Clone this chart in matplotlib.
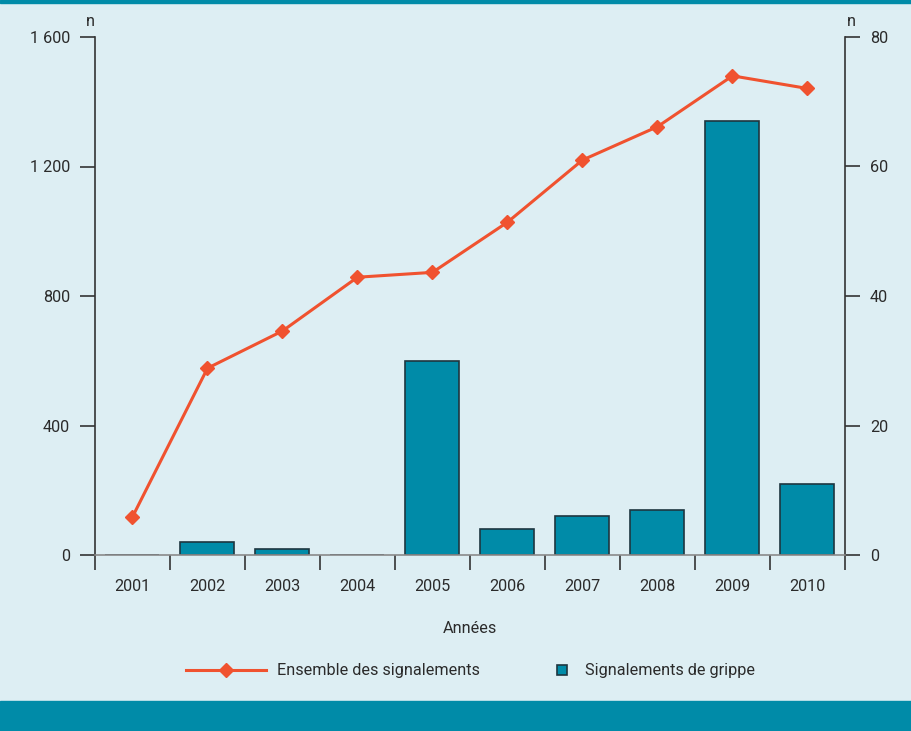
import matplotlib
matplotlib.use("Agg")
import matplotlib.pyplot as plt
from matplotlib.lines import Line2D
from matplotlib.patches import Patch, Rectangle
import numpy as np

plt.rcParams['font.family'] = ['Roboto', 'DejaVu Sans']

years = ["2001", "2002", "2003", "2004", "2005", "2006", "2007", "2008", "2009", "2010"]
ensemble = [118, 577, 692, 858, 873, 1028, 1220, 1323, 1480, 1441]
grippe = [0, 2, 1, 0, 30, 4, 6, 7, 67, 11]
left_ticks = [0, 400, 800, 1200, 1600]
left_labels = ["0", "400", "800", "1 200", "1 600"]
right_ticks = [0, 20, 40, 60, 80]

BG = "#ddeef3"
TEAL = "#008ba8"
EDGE = "#1e3640"
RED = "#f0522f"
TXT = "#2b2b2b"
AX = "#333333"
FS = 11.7

fig = plt.figure(figsize=(9.12, 7.31), dpi=100, facecolor=BG)
fig.patches.append(Rectangle((0, 1 - 3/731), 1, 3/731, transform=fig.transFigure, color=TEAL, zorder=0))
fig.patches.append(Rectangle((0, 0), 1, 30/731, transform=fig.transFigure, color=TEAL, zorder=0))

W, H = 912, 731
x0, x1, ytop, ybot = 95, 845, 37, 555
ax = fig.add_axes([x0 / W, 1 - ybot / H, (x1 - x0) / W, (ybot - ytop) / H])
ax.set_facecolor("none")
ax2 = ax.twinx()

n = len(years)
x = np.arange(n) + 0.5

ax2.bar(x, grippe, width=0.72, color=TEAL, edgecolor=EDGE, linewidth=1.2, zorder=2)
ax.plot(x, ensemble, color=RED, lw=2.2, marker="D", ms=7, mec=RED, mfc=RED, zorder=5)
ax.set_zorder(ax2.get_zorder() + 1)
ax.patch.set_visible(False)

ax.set_xlim(0, n)
ax.set_ylim(0, 1600)
ax2.set_ylim(0, 80)

for a in (ax, ax2):
    for s in a.spines.values():
        s.set_visible(False)

ax.spines['left'].set_visible(True)
ax.spines['left'].set_color(AX)
ax.spines['left'].set_linewidth(1.2)
ax2.spines['right'].set_visible(True)
ax2.spines['right'].set_color(AX)
ax2.spines['right'].set_linewidth(1.2)
ax.spines['bottom'].set_visible(True)
ax.spines['bottom'].set_color("#8a8a8a")
ax.spines['bottom'].set_linewidth(1.2)

ax.set_yticks(left_ticks)
ax.set_yticklabels(left_labels)
ax2.set_yticks(right_ticks)
ax2.set_yticklabels([str(t) for t in right_ticks])
ax.tick_params(axis='y', length=11, width=1.2, color=AX, labelsize=FS, labelcolor=TXT, pad=7)
ax2.tick_params(axis='y', length=11, width=1.2, color=AX, labelsize=FS, labelcolor=TXT, pad=7)

ax.set_xticks(np.arange(n + 1))
ax.set_xticklabels([])
ax.set_xticks(x, minor=True)
ax.set_xticklabels(years, minor=True)
ax.tick_params(axis='x', which='major', length=11, width=1.2, color=AX, direction='out')
ax.tick_params(axis='x', which='minor', length=0, labelsize=FS, labelcolor=TXT, pad=17)

ax.set_xlabel("Années", fontsize=FS, color=TXT, labelpad=20)

fig.text(90 / W, 1 - 22 / H, "n", ha="center", va="center", fontsize=FS, color=TXT)
fig.text(851 / W, 1 - 22 / H, "n", ha="center", va="center", fontsize=FS, color=TXT)

leg1 = fig.legend([Line2D([0], [0], color=RED, lw=2.2, marker="D", ms=7)],
                  ["Ensemble des signalements"],
                  loc="center left", bbox_to_anchor=(186 / W, 1 - 671 / H), frameon=False,
                  fontsize=FS, handlelength=4.9, handletextpad=0.7, labelcolor=TXT,
                  borderpad=0, borderaxespad=0)
leg2 = fig.legend([Patch(facecolor=TEAL, edgecolor=EDGE, linewidth=1.2)],
                  ["Signalements de grippe"],
                  loc="center left", bbox_to_anchor=(557 / W, 1 - 671 / H), frameon=False,
                  fontsize=FS, handlelength=0.6, handleheight=0.6, handletextpad=1.1,
                  labelcolor=TXT, borderpad=0, borderaxespad=0)

fig.savefig("out.png", dpi=100, facecolor=BG)
